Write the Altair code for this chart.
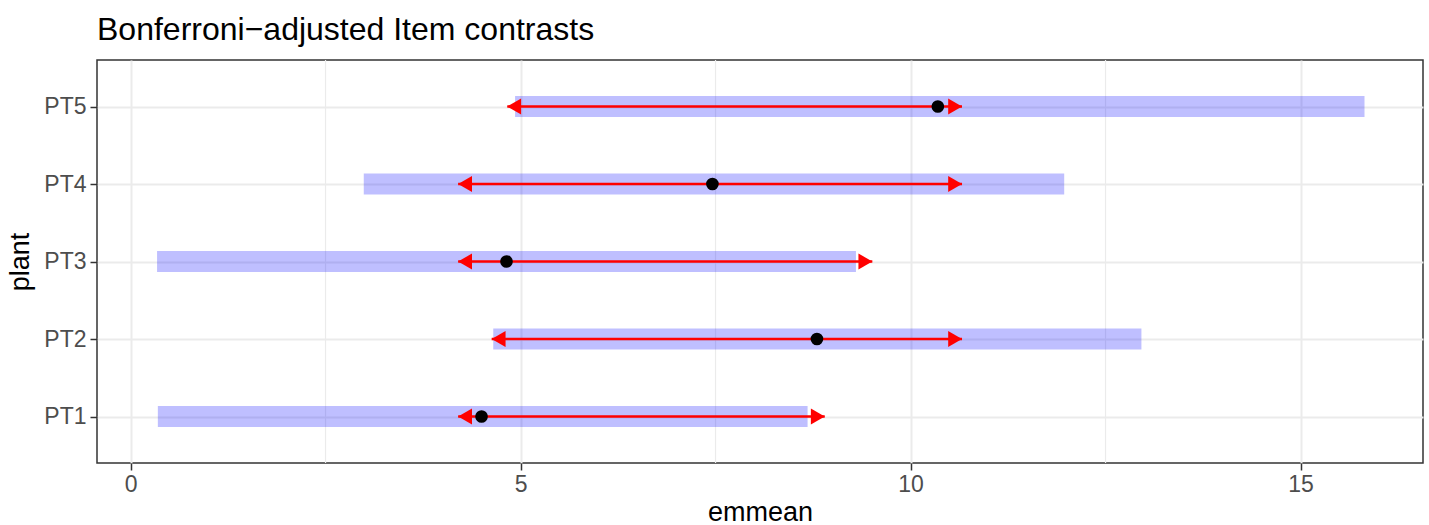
import altair as alt
import pandas as pd

# ---- data ----
plant = ["PT1", "PT2", "PT3", "PT4", "PT5"]
emmean = [4.50, 8.80, 4.82, 7.46, 10.35]
lower_CL = [0.35, 4.65, 0.34, 2.99, 4.93]
upper_CL = [8.68, 12.96, 9.30, 11.97, 15.82]
lcmpl = [4.20, 4.63, 4.20, 4.20, 4.83]
rcmpl = [8.90, 10.66, 9.51, 10.66, 10.66]

major_breaks = [0, 5, 10, 15]
minor_breaks = [2.5, 7.5, 12.5]
plant_order = ["PT5", "PT4", "PT3", "PT2", "PT1"]

df = pd.DataFrame({
    "plant": plant, "emmean": emmean, "lower_CL": lower_CL,
    "upper_CL": upper_CL, "lcmpl": lcmpl, "rcmpl": rcmpl,
})
minor_df = pd.DataFrame({"m": minor_breaks})

FONT = "Liberation Sans"
x_scale = alt.Scale(domain=[-0.43, 16.57], nice=False, zero=False)
x_axis = alt.Axis(values=major_breaks, grid=True, gridColor="#EBEBEB", gridWidth=2,
                  domain=False, tickColor="#333333", tickSize=7, tickWidth=1.5,
                  labelColor="#4D4D4D", labelFontSize=23, labelFont=FONT, labelPadding=3,
                  titleFontSize=27, titleFont=FONT, titleColor="black",
                  titleFontWeight="normal", titlePadding=3)
y_axis = alt.Axis(grid=True, gridColor="#EBEBEB", gridWidth=2,
                  domain=False, tickColor="#333333", tickSize=7, tickWidth=1.5,
                  labelColor="#4D4D4D", labelFontSize=23, labelFont=FONT, labelPadding=4,
                  titleFontSize=27, titleFont=FONT, titleColor="black",
                  titleFontWeight="normal", titlePadding=9)
y_scale = alt.Scale(type="point", padding=0.6)


def X(field):
    return alt.X(field, type="quantitative", scale=x_scale, axis=x_axis, title="emmean")


Y = alt.Y("plant:N", sort=plant_order, scale=y_scale, axis=y_axis, title="plant")

minor = alt.Chart(minor_df).mark_rule(color="#EBEBEB", strokeWidth=1.2).encode(x=X("m"))

base = alt.Chart(df)
bars = base.mark_rule(color="blue", opacity=0.25, strokeWidth=21, strokeCap="butt").encode(
    x=X("lower_CL"), x2="upper_CL", y=Y)
left_line = base.mark_rule(color="red", strokeWidth=2.5).encode(x=X("emmean"), x2="lcmpl", y=Y)
right_line = base.mark_rule(color="red", strokeWidth=2.5).encode(x=X("emmean"), x2="rcmpl", y=Y)
left_head = base.mark_point(shape="M0,0L1.732,-1L1.732,1Z", size=256, filled=True,
                            color="red", opacity=1).encode(x=X("lcmpl"), y=Y)
right_head = base.mark_point(shape="M0,0L-1.732,-1L-1.732,1Z", size=256, filled=True,
                             color="red", opacity=1).encode(x=X("rcmpl"), y=Y)
points = base.mark_circle(color="black", size=160, opacity=1).encode(x=X("emmean"), y=Y)

chart = alt.layer(minor, bars, left_line, right_line, left_head, right_head, points).properties(
    width=1326, height=403,
    title=alt.Title("Bonferroni\u2212adjusted Item contrasts", anchor="start", fontSize=32,
                    font=FONT, fontWeight="normal", color="black", offset=14,
                    baseline="bottom", frame="group", dy=34),
    autosize=alt.AutoSizeParams(type="none"),
    padding={"left": 97, "top": 60, "right": 6, "bottom": 62},
    background="white",
).configure_view(stroke="#333333", strokeWidth=1.5)

chart.save("out.html", embed_options={"renderer": "svg", "actions": False})
